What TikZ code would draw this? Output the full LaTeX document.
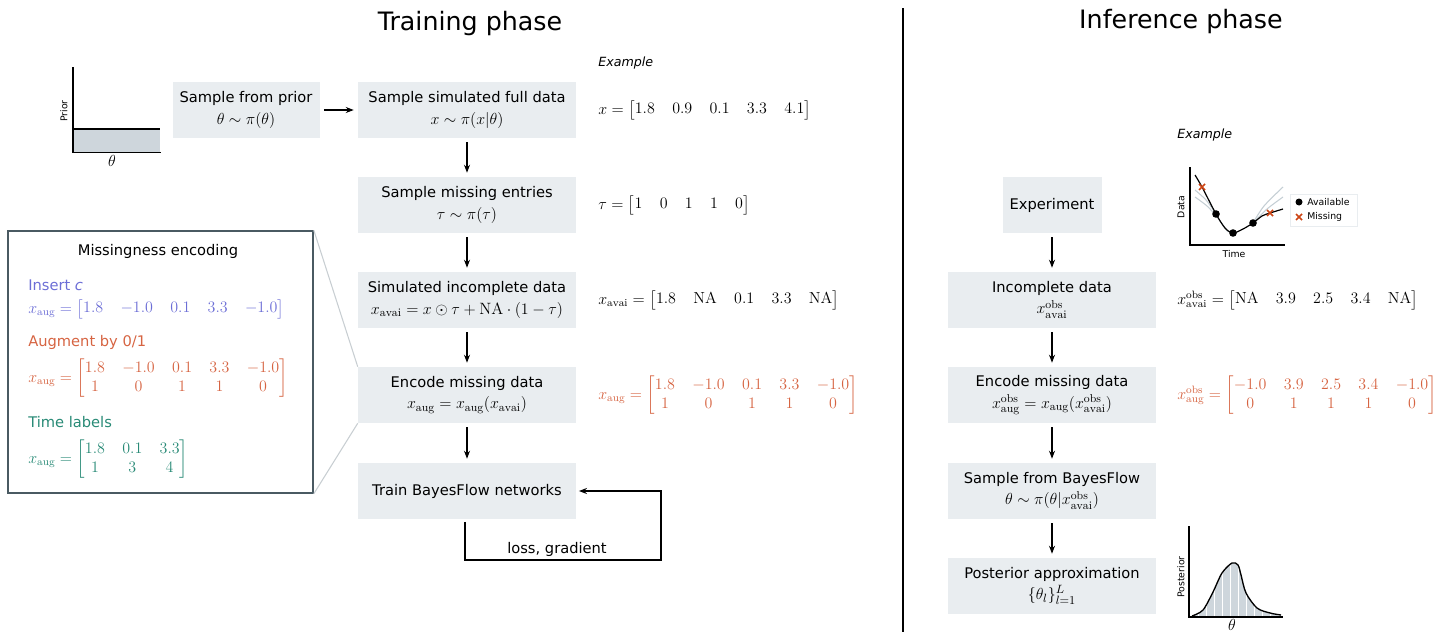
\documentclass[tikz,border=0pt]{standalone}
\usepackage{amsmath}
\usepackage{fontspec}
\newfontfamily\dv{DejaVu Sans}
\usetikzlibrary{arrows.meta}
\definecolor{boxgray}{RGB}{233,237,240}
\definecolor{mblue}{RGB}{108,110,214}
\definecolor{morange}{RGB}{214,100,66}
\definecolor{mteal}{RGB}{40,138,118}
\definecolor{slate}{RGB}{74,90,98}
\definecolor{zoomgray}{RGB}{200,206,210}
\definecolor{fillgray}{RGB}{206,214,220}
\definecolor{curvegray}{RGB}{196,206,212}
\definecolor{xred}{RGB}{204,68,20}
\setlength{\arraycolsep}{6.5pt}
\newcommand{\mline}[1]{{\fontsize{12.3}{16}\selectfont$#1$}}
\begin{document}
\begin{tikzpicture}[x=0.75pt,y=-0.75pt,
  box/.style={fill=boxgray, inner sep=0pt, align=center, font=\dv\fontsize{11}{16}\selectfont, minimum height=42pt},
  trbox/.style={box, minimum width=163.5pt},
  infbox/.style={box, minimum width=156pt},
  arr/.style={-{Stealth[length=6pt,width=4.5pt]}, line width=0.9pt, shorten <=3pt, shorten >=3pt},
  ttl/.style={font=\dv\fontsize{19}{22}\selectfont},
  ex/.style={font=\dv\itshape\fontsize{9.5}{11}\selectfont, anchor=west, inner sep=0pt},
  eq/.style={anchor=west, font=\fontsize{12}{14}\selectfont, inner sep=0pt},
  lbl/.style={font=\dv\fontsize{11}{13}\selectfont, anchor=west, inner sep=0pt},
  small/.style={font=\dv\fontsize{7}{8}\selectfont, inner sep=0pt},
  axis/.style={line width=0.9pt}]
\useasboundingbox (0,0) rectangle (1453,632);

% titles and divider
\node[ttl] (t1) at (470,24) {Training phase};
\node[ttl] (t2) at (1181,22) {Inference phase};
\draw[line width=1pt] (903,8) -- (903,632);

% prior plot
\fill[fillgray] (74,129) rectangle (160,152);
\draw[line width=0.9pt] (74,129) -- (160,129);
\draw[axis] (73,67) -- (73,152.5) -- (161,152.5);
\node[small, rotate=90] (pl) at (64,111) {Prior};
\node[font=\fontsize{12}{13}\selectfont, inner sep=0pt] (pth) at (112,161) {$\theta$};

% training column
\node[box, minimum width=110.25pt] (pr) at (246,110) {Sample from prior\\\mline{\theta\sim\pi(\theta)}};
\node[trbox] (b1) at (467,110) {Sample simulated full data\\\mline{x\sim\pi(x|\theta)}};
\node[trbox] (b2) at (467,205) {Sample missing entries\\\mline{\tau\sim\pi(\tau)}};
\node[trbox] (b3) at (467,300) {Simulated incomplete data\\\mline{x_{\mathrm{avai}}=x\odot\tau+\mathrm{NA}\cdot(1-\tau)}};
\node[trbox] (b4) at (467,395) {Encode missing data\\\mline{x_{\mathrm{aug}}=x_{\mathrm{aug}}(x_{\mathrm{avai}})}};
\node[trbox] (b5) at (467,491) {Train BayesFlow networks};

\draw[arr] (pr) -- (b1);
\draw[arr] (b1) -- (b2);
\draw[arr] (b2) -- (b3);
\draw[arr] (b3) -- (b4);
\draw[arr] (b4) -- (b5);
\coordinate (lp) at (661,560);
\draw[line width=0.9pt, -{Stealth[length=6pt,width=4.5pt]}] ([xshift=-1.5pt,yshift=-2pt]b5.south) |- (lp) |- ([xshift=2pt]b5.east);
\node[font=\dv\fontsize{11}{13}\selectfont] (lg) at (557,549) {loss, gradient};

% training examples
\node[ex] (e1) at (598,63) {Example};
\node[eq] (v1) at (598,110) {$x=\begin{bmatrix}1.8 & 0.9 & 0.1 & 3.3 & 4.1\end{bmatrix}$};
\node[eq] (v2) at (598,205) {$\tau=\begin{bmatrix}1 & 0 & 1 & 1 & 0\end{bmatrix}$};
\node[eq] (v3) at (598,300) {$x_{\mathrm{avai}}=\begin{bmatrix}1.8 & \mathrm{NA} & 0.1 & 3.3 & \mathrm{NA}\end{bmatrix}$};
\node[eq, text=morange] (v4) at (598,395) {$x_{\mathrm{aug}}=\begin{bmatrix}1.8 & -1.0 & 0.1 & 3.3 & -1.0\\ 1 & 0 & 1 & 1 & 0\end{bmatrix}$};

% missingness encoding box
\node[draw=slate, line width=1.2pt, minimum width=228.75pt, minimum height=196.5pt, inner sep=0pt] (mb) at (160.5,362) {};
\draw[zoomgray, line width=0.8pt] (mb.north east) -- (b4.north west);
\draw[zoomgray, line width=0.8pt] (mb.south east) -- (b4.south west);
\node[font=\dv\fontsize{11}{13}\selectfont] (mt) at (158,251) {Missingness encoding};
\node[lbl, text=mblue] (m1) at (28,285) {Insert {\itshape c}};
\node[eq, text=mblue] (m1x) at (28,309) {$x_{\mathrm{aug}}=\begin{bmatrix}1.8 & -1.0 & 0.1 & 3.3 & -1.0\end{bmatrix}$};
\node[lbl, text=morange] (m2) at (28,342) {Augment by 0/1};
\node[eq, text=morange] (m2x) at (28,378) {$x_{\mathrm{aug}}=\begin{bmatrix}1.8 & -1.0 & 0.1 & 3.3 & -1.0\\ 1 & 0 & 1 & 1 & 0\end{bmatrix}$};
\node[lbl, text=mteal] (m3) at (28,422) {Time labels};
\node[eq, text=mteal] (m3x) at (28,459) {$x_{\mathrm{aug}}=\begin{bmatrix}1.8 & 0.1 & 3.3\\ 1 & 3 & 4\end{bmatrix}$};

% inference column
\node[box, minimum width=74.25pt] (i1) at (1052,205) {Experiment};
\node[infbox] (i2) at (1052,300) {Incomplete data\\\mline{x^{\mathrm{obs}}_{\mathrm{avai}}}};
\node[infbox] (i3) at (1052,395) {Encode missing data\\\mline{x^{\mathrm{obs}}_{\mathrm{aug}}=x_{\mathrm{aug}}(x^{\mathrm{obs}}_{\mathrm{avai}})}};
\node[infbox] (i4) at (1052,491) {Sample from BayesFlow\\\mline{\theta\sim\pi(\theta|x^{\mathrm{obs}}_{\mathrm{avai}})}};
\node[infbox] (i5) at (1052,586) {Posterior approximation\\\mline{\{\theta_l\}_{l=1}^{L}}};
\draw[arr] (i1) -- (i2);
\draw[arr] (i2) -- (i3);
\draw[arr] (i3) -- (i4);
\draw[arr] (i4) -- (i5);

\node[eq] (w1) at (1177,300) {$x^{\mathrm{obs}}_{\mathrm{avai}}=\begin{bmatrix}\mathrm{NA} & 3.9 & 2.5 & 3.4 & \mathrm{NA}\end{bmatrix}$};
\node[eq, text=morange] (w2) at (1177,395) {$x^{\mathrm{obs}}_{\mathrm{aug}}=\begin{bmatrix}-1.0 & 3.9 & 2.5 & 3.4 & -1.0\\ 0 & 1 & 1 & 1 & 0\end{bmatrix}$};

% inference example plot
\node[ex] (e2) at (1177,135) {Example};
\draw[curvegray, line width=0.8pt] plot[smooth] coordinates {(1195,190) (1206,200) (1216,214)};
\draw[curvegray, line width=0.8pt] plot[smooth] coordinates {(1195,197) (1207,206) (1217,217) (1228,232)};
\draw[curvegray, line width=0.8pt] plot[smooth] coordinates {(1253,223) (1264,206) (1283,187)};
\draw[curvegray, line width=0.8pt] plot[smooth] coordinates {(1253,223) (1267,209) (1283,197)};
\draw[line width=0.9pt] plot[smooth] coordinates {(1195,175) (1202,187) (1216,214) (1225,228) (1233,233) (1243,229) (1253,223) (1262,216) (1270,213) (1283,209)};
\fill (1216,214) circle (3.8);
\fill (1233,233) circle (3.8);
\fill (1253,223) circle (3.8);
\draw[xred, line width=1.3pt] (1199,184) -- (1205,190) (1199,190) -- (1205,184);
\draw[xred, line width=1.3pt] (1267,210) -- (1273,216) (1267,216) -- (1273,210);
\draw[axis] (1190,167) -- (1190,245) -- (1285,245);
\node[small, rotate=90] (dl) at (1181,207) {Data};
\node[small] (tl) at (1234,254) {Time};
\draw[boxgray, line width=0.5pt] (1290,194) rectangle (1357,226);
\fill (1299,202) circle (3.5);
\node[small, anchor=west] (la) at (1307,202) {Available};
\draw[xred, line width=1.3pt] (1296,214) -- (1302,220) (1296,220) -- (1302,214);
\node[small, anchor=west] (lm) at (1307,217) {Missing};

% posterior plot
\begin{scope}
\clip plot[smooth] coordinates {(1192,616) (1203,610) (1213,592) (1222,573) (1232,563) (1238,565) (1241,575) (1246,593) (1257,608) (1270,613) (1281,615)} -- (1281,617) -- (1192,617) -- cycle;
\fill[fillgray] (1190,550) rectangle (1285,617);
\foreach \k in {1198,1206,...,1280} \draw[white, line width=0.6pt] (\k,550) -- (\k,617);
\end{scope}
\draw[line width=1pt] plot[smooth] coordinates {(1192,616) (1203,610) (1213,592) (1222,573) (1232,563) (1238,565) (1241,575) (1246,593) (1257,608) (1270,613) (1281,615)};
\draw[axis] (1189,526) -- (1189,617) -- (1283,617);
\node[small, rotate=90] (pol) at (1181,577) {Posterior};
\node[font=\fontsize{12}{13}\selectfont, inner sep=0pt] (pth2) at (1232,624.5) {$\theta$};
\end{tikzpicture}
\end{document}
